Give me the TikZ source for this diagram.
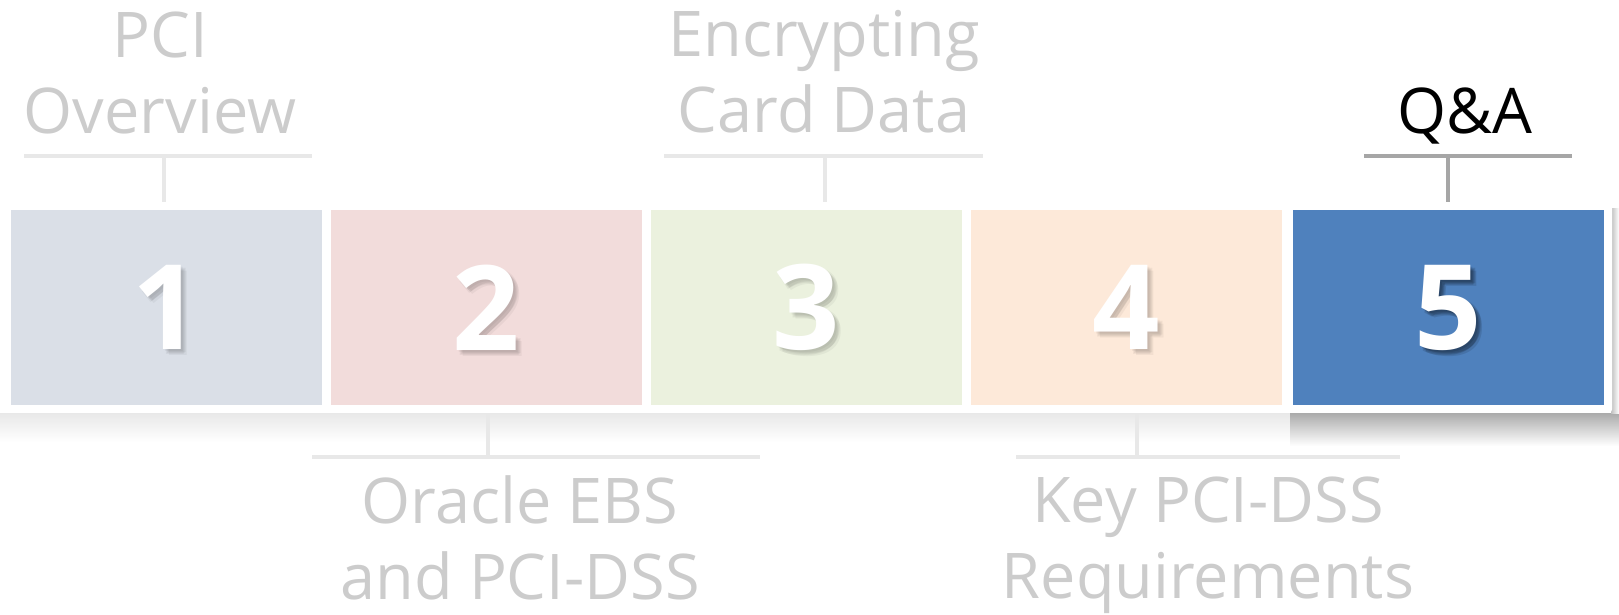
\documentclass[tikz,border=0pt]{standalone}
\usepackage{fontspec}
\setmainfont{Open Sans}
\definecolor{paleblue}{HTML}{DADFE7}
\definecolor{palered}{HTML}{F2DCDB}
\definecolor{palegreen}{HTML}{EBF1DE}
\definecolor{paleorange}{HTML}{FDE9D9}
\definecolor{accentblue}{HTML}{4F81BD}
\definecolor{fadetext}{HTML}{CCCCCC}
\definecolor{fadeline}{HTML}{E8E8E8}
\definecolor{activeline}{HTML}{A6A6A6}
\begin{document}
\begin{tikzpicture}[x=1pt,y=-1pt,
  numbox/.style={minimum width=311.5pt, minimum height=195.5pt, inner sep=0pt,
    anchor=north west, draw=none},
  digit/.style={inner sep=0pt, text=white,
    font=\fontsize{118}{118}\selectfont\bfseries},
  digitshade/.style={digit, text=black, opacity=#1},
  heading/.style={align=center, inner sep=0pt, anchor=base,
    font=\fontsize{63}{76}\selectfont, text=fadetext},
  bar/.style={line width=4pt, draw=fadeline},
  activebar/.style={line width=4pt, draw=activeline},
]
\useasboundingbox (0,0) rectangle (1619,614);

% soft shadow under the strip of inactive steps
\shade[top color=black!9, bottom color=white] (0,413) rectangle (1290,442);
% white strip holding steps 1-4
\fill[white] (0,201.5) rectangle (1286,413);

% shadow and white frame of the active step
\shade[top color=black!33, bottom color=white] (1290,413) rectangle (1619,446);
\shade[left color=black!25, right color=white] (1611,208) rectangle (1619,413);
\fill[white, rounded corners=3pt] (1285,202.5) rectangle (1612,412.5);

% the five steps
\node[numbox, fill=paleblue]   (b1) at (10.7,209.5) {};
\node[numbox, fill=palered]    (b2) at (330.7,209.5) {};
\node[numbox, fill=palegreen]  (b3) at (650.7,209.5) {};
\node[numbox, fill=paleorange] (b4) at (970.7,209.5) {};
\node[numbox, fill=accentblue, minimum width=311pt] (b5) at (1292.3,209.5) {};

% step numbers with a soft drop shadow
\foreach \n/\o in {1/0.045,2/0.045,3/0.045,4/0.045,5/0.11}{
  \foreach \dx/\dy in {2/2,4/4,3/5,5/3,6/6}{
    \node[digitshade=\o] at ([shift={(\dx,\dy)}]b\n.center) {\n};
  }
  \node[digit] (n\n) at (b\n.center) {\n};
}

% captions above and below
\node[heading] (t1) at (160,133) {PCI\\Overview};
\node[heading] (t2) at (520,599) {Oracle EBS\\and PCI-DSS};
\node[heading] (t3) at (824,132) {Encrypting\\Card Data};
\node[heading] (t4) at (1208,598) {Key PCI-DSS\\Requirements};
\node[heading, text=black] (t5) at (1465,133) {Q\&A};

% brackets joining captions to steps
\coordinate (h1a) at (24,156);   \coordinate (h1b) at (312,156);  \coordinate (j1) at (164,156);
\coordinate (h2a) at (312,457);  \coordinate (h2b) at (760,457);  \coordinate (j2) at (488,457);
\coordinate (h3a) at (664,156);  \coordinate (h3b) at (983,156);  \coordinate (j3) at (825,156);
\coordinate (h4a) at (1016,457); \coordinate (h4b) at (1400,457); \coordinate (j4) at (1137,457);
\coordinate (h5a) at (1364,156); \coordinate (h5b) at (1572,156); \coordinate (j5) at (1448,156);

\draw[bar] (h1a) -- (h1b);  \draw[bar] (j1) -- ([yshift=8pt]j1 |- b1.north);
\draw[bar] (h2a) -- (h2b);  \draw[bar] (j2) -- ([yshift=-8pt]j2 |- b2.south);
\draw[bar] (h3a) -- (h3b);  \draw[bar] (j3) -- ([yshift=8pt]j3 |- b3.north);
\draw[bar] (h4a) -- (h4b);  \draw[bar] (j4) -- ([yshift=-8pt]j4 |- b4.south);
\draw[activebar] (h5a) -- (h5b); \draw[activebar] (j5) -- ([yshift=8pt]j5 |- b5.north);
\end{tikzpicture}
\end{document}
